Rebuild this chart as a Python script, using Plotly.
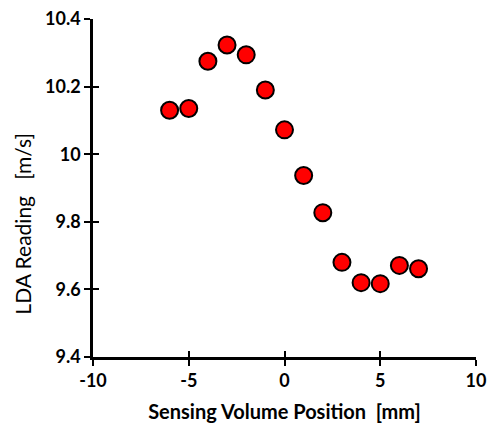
import plotly.graph_objects as go

positions = [-6, -5, -4, -3, -2, -1, 0, 1, 2, 3, 4, 5, 6, 7]
readings = [10.13, 10.135, 10.275, 10.323, 10.294, 10.19, 10.072, 9.937, 9.827, 9.68, 9.62, 9.617, 9.671, 9.661]

x_ticks = [-10, -5, 0, 5, 10]
x_labels = ["-10", "-5", "0", "5", "10"]
y_ticks = [9.4, 9.6, 9.8, 10.0, 10.2, 10.4]
y_labels = ["9.4", "9.6", "9.8", "10", "10.2", "10.4"]

x_title = "Sensing Volume Position\u00a0\u00a0[mm]"
y_title = "LDA Reading\u00a0\u00a0\u00a0[m/s]"

font_family = "Lato"

fig = go.Figure()
fig.add_trace(go.Scatter(
    x=positions, y=readings, mode="markers",
    marker=dict(size=17, color="#ff0000", line=dict(color="black", width=2)),
    showlegend=False, cliponaxis=False, hoverinfo="skip",
))
# overlay trace for inside ticks
fig.add_trace(go.Scatter(x=[], y=[], xaxis="x2", yaxis="y2", showlegend=False))

fig.update_layout(
    width=489, height=423,
    margin=dict(l=93, r=13, t=19, b=66),
    paper_bgcolor="white", plot_bgcolor="white",
    font=dict(family=font_family, color="#000000"),
    xaxis=dict(
        range=[-10, 10], tickvals=x_ticks, ticktext=x_labels, ticks="outside", ticklen=6, tickwidth=2,
        tickcolor="black", showline=True, linecolor="black", linewidth=2.5,
        showgrid=False, zeroline=False, automargin=False, ticklabeloverflow="allow",
        tickfont=dict(size=18, family=font_family, weight="bold"),
        title=dict(text=x_title, font=dict(size=20, family=font_family, weight="bold"), standoff=22),
    ),
    yaxis=dict(
        range=[9.4, 10.4], tickvals=y_ticks, ticktext=y_labels, ticks="outside", ticklen=6, tickwidth=2,
        tickcolor="black", showline=True, linecolor="black", linewidth=2.5,
        showgrid=False, zeroline=False, automargin=False, ticklabeloverflow="allow",
        tickfont=dict(size=18, family=font_family, weight="bold"),
    ),
    xaxis2=dict(range=[-10, 10], overlaying="x", tickvals=x_ticks, ticks="inside", ticklen=6, tickwidth=2,
                tickcolor="black", showticklabels=False, showgrid=False, zeroline=False, side="bottom"),
    yaxis2=dict(range=[9.4, 10.4], overlaying="y", tickvals=y_ticks, ticks="inside", ticklen=6, tickwidth=2,
                tickcolor="black", showticklabels=False, showgrid=False, zeroline=False, side="left"),
    annotations=[dict(
        text=y_title, textangle=-90, xref="paper", yref="paper",
        x=-0.185, y=0.395, xanchor="center", yanchor="middle", showarrow=False,
        font=dict(size=21, family=font_family, color="#000000"),
    )],
)

fig.write_html(
    "out.html",
    config={"displayModeBar": False},
    post_script="document.body.style.margin='0';document.body.style.overflow='hidden';",
)
